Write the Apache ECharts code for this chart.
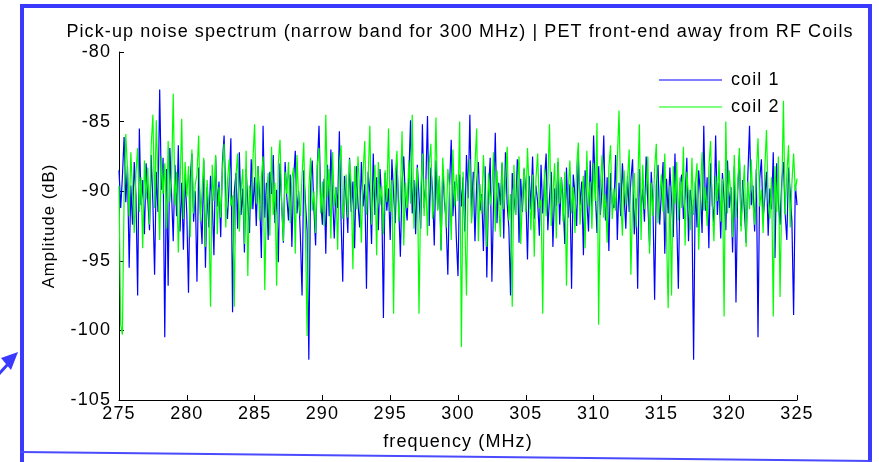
<!DOCTYPE html>
<html>
<head>
<meta charset="utf-8">
<script src="https://cdn.jsdelivr.net/npm/echarts@6/dist/echarts.min.js"></script>
<style>
html,body{margin:0;padding:0;background:#fff;}
#c{width:879px;height:462px;}
</style>
</head>
<body>
<div id="c"></div>
<script>
const titleText = 'Pick-up noise spectrum (narrow band for 300 MHz) | PET front-end away from RF Coils';
const xName = 'frequency (MHz)';
const yName = 'Amplitude (dB)';
const seriesNames = ['coil 1', 'coil 2'];
const xTicks = [275, 280, 285, 290, 295, 300, 305, 310, 315, 320, 325];
const yTicks = [-105, -100, -95, -90, -85, -80];
const freqStart = 275;
const freqStep = 0.125;

const coil1 = [
-88.5,-91.2,-89.0,-86.1,-90.8,-88.2,-95.5,-89.6,-92.4,-87.9,-90.3,-97.5,-85.5,-91.0,-89.2,-93.1,-88.0,-90.6,-92.8,-87.4,
-90.9,-96.0,-88.6,-91.5,-82.7,-89.9,-87.6,-100.5,-88.4,-96.8,-86.9,-90.2,-93.6,-88.1,-91.8,-86.7,-92.9,-89.4,-94.2,-88.8,
-91.6,-97.3,-89.1,-87.3,-92.2,-90.0,-96.5,-88.3,-91.4,-93.8,-87.8,-95.5,-89.7,-92.6,-88.9,-90.7,-94.6,-87.5,-91.1,-89.3,
-93.3,-88.0,-86.0,-90.5,-92.0,-89.5,-86.2,-98.7,-90.1,-88.7,-92.7,-87.2,-91.7,-89.8,-94.4,-88.4,-90.9,-93.0,-87.7,-91.3,
-89.0,-92.5,-88.2,-90.6,-94.8,-85.3,-91.9,-89.4,-93.5,-88.6,-90.2,-87.4,-92.3,-89.9,-95.1,-88.0,-91.0,-93.7,-87.9,-90.4,
-92.1,-88.8,-94.0,-89.2,-87.1,-91.6,-90.0,-93.2,-97.5,-88.5,-90.8,-92.9,-102.1,-89.6,-87.8,-91.3,-93.9,-88.3,-85.3,-90.7,
-92.4,-89.1,-94.5,-88.1,-91.8,-87.0,-90.3,-93.4,-89.7,-91.2,-85.7,-92.0,-96.5,-88.9,-90.5,-93.0,-87.6,-91.5,-89.3,-94.1,
-88.2,-90.9,-92.6,-87.9,-91.1,-89.5,-97.0,-88.6,-90.1,-93.8,-87.3,-91.7,-89.0,-92.8,-88.4,-90.6,-99.1,-88.7,-91.4,-89.8,
-93.5,-87.7,-90.2,-92.3,-88.0,-91.0,-94.7,-89.4,-87.5,-90.8,-92.1,-88.9,-84.9,-91.6,-89.2,-93.1,-88.1,-90.4,-92.7,-85.2,
-91.2,-89.6,-84.6,-92.5,-88.3,-90.0,-93.9,-87.8,-91.3,-89.1,-94.2,-88.5,-90.7,-92.2,-96.0,-89.7,-86.3,-91.8,-89.3,-93.3,
-96.1,-88.8,-91.1,-89.0,-92.9,-87.4,-90.5,-84.5,-91.9,-88.6,-93.6,-89.5,-87.9,-91.4,-90.2,-94.3,-88.2,-96.2,-89.9,-87.6,
-96.5,-90.6,-85.8,-92.3,-89.4,-91.0,-88.0,-93.4,-87.2,-90.9,-92.6,-97.5,-88.7,-90.3,-91.7,-87.7,-93.7,-89.1,-91.5,-88.4,
-90.1,-94.9,-88.9,-91.3,-87.5,-92.0,-89.6,-90.8,-93.2,-88.1,-91.6,-89.2,-87.3,-92.8,-90.4,-88.6,-94.0,-89.8,-91.1,-87.9,
-92.4,-89.0,-90.7,-93.8,-88.3,-91.9,-89.5,-97.0,-88.8,-90.2,-92.5,-87.6,-91.0,-89.3,-94.6,-88.5,-90.6,-92.9,-87.8,-91.4,
-86.0,-90.0,-93.0,-88.2,-91.7,-89.7,-86.0,-92.1,-89.0,-94.3,-88.7,-90.9,-91.2,-87.4,-93.5,-89.4,-91.8,-88.0,-90.3,-92.7,
-88.9,-91.5,-89.2,-87.7,-93.1,-90.5,-97.0,-88.4,-91.3,-89.8,-92.2,-87.5,-90.8,-93.9,-88.6,-91.0,-97.8,-89.6,-88.1,-92.4,
-90.1,-87.9,-94.5,-89.1,-91.6,-88.3,-90.7,-93.3,-87.3,-91.9,-97.0,-89.5,-88.8,-92.0,-90.4,-87.6,-93.6,-89.9,-91.1,-102.1,
-89.3,-92.6,-88.5,-90.2,-93.0,-85.3,-91.4,-89.0,-94.1,-88.0,-90.9,-92.3,-86.0,-91.7,-89.4,-93.4,-88.7,-90.6,-92.8,-87.8,
-91.2,-89.7,-94.4,-88.2,-98.0,-90.0,-87.4,-92.5,-89.2,-91.5,-93.7,-88.9,-85.3,-91.0,-89.6,-92.9,-88.4,-100.5,-89.1,-87.7,
-92.0,-90.5,-88.6,-93.2,-89.8,-91.3,-87.2,-94.8,-88.0,-90.8,-92.4,-89.3,-87.9,-91.6,-93.5,-88.3,-90.1,-92.2,-98.9,-89.5,
-91.0
];

const coil2 = [
-89.6,-99.6,-100.3,-90.5,-85.9,-88.4,-91.8,-87.2,-90.1,-93.0,-88.7,-86.9,-91.5,-89.0,-94.1,-87.8,-90.6,-88.3,-92.4,-86.7,
-84.5,-91.2,-84.9,-89.4,-93.5,-87.5,-90.2,-88.0,-92.7,-86.4,-90.8,-89.1,-83.0,-91.0,-88.6,-94.4,-89.9,-84.8,-92.0,-87.9,
-90.4,-88.2,-93.3,-87.0,-91.6,-89.5,-88.8,-86.0,-92.2,-90.0,-87.6,-94.0,-89.2,-91.4,-98.3,-88.1,-90.7,-87.4,-93.1,-89.7,
-91.9,-88.5,-86.6,-92.6,-89.3,-87.7,-91.1,-90.3,-98.3,-88.9,-87.3,-92.9,-90.0,-88.4,-93.8,-87.1,-96.1,-89.6,-91.3,-87.8,
-85.2,-90.9,-88.2,-92.1,-89.0,-87.5,-97.1,-90.5,-88.7,-93.2,-86.8,-91.7,-89.4,-96.8,-88.0,-86.3,-91.0,-93.6,-88.6,-90.2,
-87.9,-92.3,-89.1,-88.3,-94.5,-87.4,-90.7,-91.8,-88.9,-86.5,-92.8,-100.4,-89.8,-87.6,-91.4,-90.0,-93.0,-88.1,-86.9,-91.6,
-89.3,-92.5,-84.5,-90.4,-88.4,-93.4,-87.2,-91.1,-89.7,-94.2,-88.0,-86.7,-92.0,-90.6,-88.8,-91.9,-87.7,-89.5,-95.6,-88.2,
-91.3,-87.5,-90.1,-93.7,-88.6,-86.4,-91.7,-89.0,-85.3,-92.4,-90.3,-88.1,-94.6,-87.9,-91.0,-89.6,-93.1,-88.5,-90.8,-85.5,
-91.5,-89.2,-98.8,-88.7,-87.1,-92.2,-90.5,-85.7,-93.9,-89.4,-91.2,-87.8,-90.9,-84.5,-92.7,-89.8,-88.3,-98.8,-90.2,-87.3,
-91.8,-89.1,-93.2,-88.0,-86.6,-92.0,-90.6,-84.7,-91.4,-88.9,-94.3,-87.6,-90.0,-92.6,-88.4,-89.7,-93.5,-87.0,-91.1,-88.8,
-90.7,-85.0,-101.2,-88.6,-91.9,-97.5,-89.3,-87.7,-92.3,-90.1,-88.2,-85.5,-93.6,-89.5,-91.6,-87.4,-90.4,-94.0,-88.7,-91.0,
-89.9,-87.2,-92.9,-88.5,-90.8,-93.3,-87.9,-91.3,-89.2,-86.8,-92.1,-90.2,-98.3,-88.1,-91.7,-89.6,-87.5,-93.8,-90.5,-88.3,
-91.5,-86.9,-90.0,-92.8,-88.8,-94.7,-89.1,-87.3,-91.2,-90.6,-98.8,-88.4,-91.8,-89.4,-85.2,-92.5,-90.3,-88.0,-93.4,-87.6,
-90.9,-89.0,-92.2,-88.6,-96.8,-90.1,-87.8,-91.6,-89.7,-93.0,-88.2,-86.5,-92.4,-90.4,-88.9,-94.1,-87.1,-91.1,-89.3,-92.7,
-88.0,-90.7,-85.1,-99.6,-89.5,-87.4,-91.9,-90.2,-93.7,-88.3,-86.7,-92.0,-89.8,-91.4,-87.7,-84.2,-90.6,-93.2,-88.5,-91.0,
-89.2,-87.0,-96.0,-90.8,-88.7,-92.6,-89.9,-85.2,-93.5,-88.1,-91.3,-90.0,-87.5,-94.5,-89.4,-91.8,-88.4,-86.6,-92.3,-90.5,
-88.8,-91.5,-87.3,-93.1,-98.4,-89.6,-97.5,-88.2,-90.9,-87.9,-92.1,-89.0,-91.2,-86.8,-93.9,-88.6,-90.3,-92.8,-87.6,-91.7,
-89.5,-88.0,-94.2,-90.1,-87.2,-91.4,-89.7,-92.5,-88.3,-86.4,-91.0,-93.6,-88.9,-90.7,-87.8,-92.2,-89.1,-99.0,-85.0,-91.6,
-88.5,-90.4,-93.3,-87.4,-91.9,-89.8,-86.9,-92.9,-90.2,-88.1,-94.0,-89.3,-91.3,-87.7,-90.8,-92.4,-88.7,-86.2,-91.1,-89.9,
-93.0,-88.4,-85.6,-90.6,-92.0,-89.0,-99.0,-88.2,-91.5,-87.5,-97.6,-90.3,-83.5,-91.7,-88.8,-86.7,-92.6,-89.4,-87.3,-90.0,
-89.1
];

const toPairs = arr => arr.map((v, i) => [freqStart + i * freqStep, v]);

const FONT = "'Liberation Sans', Arial, sans-serif";
const option = {
  animation: false,
  backgroundColor: '#ffffff',
  textStyle: {fontFamily: FONT, color: '#000'},
  title: {
    text: titleText,
    left: 455, top: 18, textAlign: 'center',
    textStyle: {fontFamily: FONT, fontSize: 18, fontWeight: 'normal', color: '#000'}
  },
  legend: {
    orient: 'vertical',
    left: 654, top: 66,
    icon: 'rect',
    itemWidth: 63, itemHeight: 1, itemGap: 9,
    data: seriesNames,
    textStyle: {fontFamily: FONT, fontSize: 18, lineHeight: 18, color: '#000', padding: [0, 0, 0, 4]}
  },
  grid: {left: 119, right: 82, top: 52, bottom: 62, containLabel: false},
  xAxis: {
    type: 'value', min: xTicks[0], max: xTicks[xTicks.length - 1], interval: 5,
    name: xName, nameLocation: 'middle', nameGap: 33,
    nameTextStyle: {fontFamily: FONT, fontSize: 18, color: '#000'},
    axisLine: {onZero: false, lineStyle: {color: '#000', width: 1}},
    axisTick: {inside: true, length: 5, lineStyle: {color: '#000'}},
    axisLabel: {fontFamily: FONT, fontSize: 18, color: '#000', margin: 5},
    splitLine: {show: false}
  },
  yAxis: {
    type: 'value', min: yTicks[0], max: yTicks[yTicks.length - 1], interval: 5,
    name: yName, nameLocation: 'middle', nameGap: 61, nameRotate: 90,
    nameTextStyle: {fontFamily: FONT, fontSize: 16.5, color: '#000'},
    axisLine: {show: true, onZero: false, lineStyle: {color: '#000', width: 1}},
    axisTick: {show: true, inside: true, length: 5, lineStyle: {color: '#000'}},
    axisLabel: {fontFamily: FONT, fontSize: 18, color: '#000', margin: 8},
    splitLine: {show: false}
  },
  series: [
    {name: seriesNames[0], type: 'line', data: toPairs(coil1), symbol: 'none', color: '#0000ff',
     lineStyle: {width: 1.2, color: '#0000ff'}, z: 2},
    {name: seriesNames[1], type: 'line', data: toPairs(coil2), symbol: 'none', color: '#00ff00',
     lineStyle: {width: 1.2, color: '#00ff00'}, z: 3}
  ],
  graphic: [
    {type: 'rect', shape: {x: 22, y: 6, width: 848, height: 500}, style: {fill: 'none', stroke: '#3a3aff', lineWidth: 4}, silent: true, z: 100},
    {type: 'line', shape: {x1: 20, y1: 452, x2: 872, y2: 461}, style: {stroke: '#4a4aff', lineWidth: 2}, silent: true, z: 100},
    {type: 'polygon', shape: {points: [[18, 352], [1, 358], [11, 370]]}, style: {fill: '#3a3aff'}, silent: true, z: 100},
    {type: 'line', shape: {x1: -4, y1: 377, x2: 9, y2: 363}, style: {stroke: '#3a3aff', lineWidth: 3}, silent: true, z: 100}
  ]
};

const chart = echarts.init(document.getElementById('c'), null, {renderer: 'canvas'});
chart.setOption(option);
try {
  document.querySelectorAll('#c canvas').forEach(cv => { cv.getContext('2d').letterSpacing = '1.1px'; });
  chart.setOption(option, true);
  chart.getZr().refreshImmediately();
} catch (e) {}
</script>
</body>
</html>
